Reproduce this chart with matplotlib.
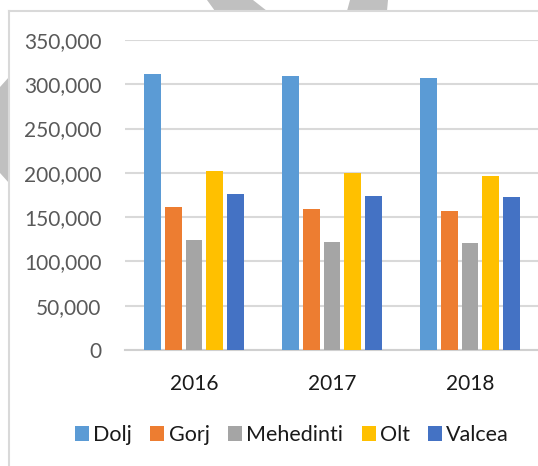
import numpy as np
import matplotlib.pyplot as plt
from matplotlib.patches import Polygon, Rectangle
from matplotlib.lines import Line2D

years = ['2016', '2017', '2018']
counties = ['Dolj', 'Gorj', 'Mehedinti', 'Olt', 'Valcea']
dolj = [312000, 309300, 307000]
gorj = [161700, 159500, 157200]
mehedinti = [123800, 121900, 120400]
olt = [202000, 199800, 196700]
valcea = [175700, 173800, 172700]
colors = ['#5b9bd5', '#ed7d31', '#a5a5a5', '#ffc000', '#4472c4']

plt.rcParams['font.family'] = ['Lato', 'DejaVu Sans']

W, H = 538, 466
fig = plt.figure(figsize=(W / 100, H / 100), dpi=100)

# grey shapes peeking out behind the chart box
def px(pts):
    return [(x / W, 1 - y / H) for x, y in pts]

for pts in [[(207, 0), (253, 0), (267, 11), (215, 11)],
            [(350, 0), (388, 0), (387, 11), (347, 11)],
            [(0, 87), (9, 77), (9, 183), (0, 173)]]:
    fig.patches.append(Polygon(px(pts), closed=True, transform=fig.transFigure,
                               facecolor='#c0c0c0', edgecolor='none', zorder=-3))
fig.patches.append(Rectangle((9 / W, 0), 1, 1 - 11 / H, transform=fig.transFigure,
                             facecolor='white', edgecolor='none', zorder=-2))
fig.lines.append(Line2D([9 / W, 9 / W], [0, 1 - 11 / H], transform=fig.transFigure,
                        color='#d9d9d9', lw=1.5, zorder=2))
fig.lines.append(Line2D([9 / W, 1], [1 - 11 / H, 1 - 11 / H], transform=fig.transFigure,
                        color='#d9d9d9', lw=1.5, zorder=2))

ax = fig.add_axes([125 / W, 1 - 350 / H, 414 / W, 310 / H])
ax.set_facecolor('none')

series = [dolj, gorj, mehedinti, olt, valcea]
x = np.arange(len(years))
slot = 0.152
bw = 0.123
for i, (vals, c, name) in enumerate(zip(series, colors, counties)):
    ax.bar(x + (i - 2) * slot, vals, width=bw, color=c, label=name, zorder=3)

ax.set_xlim(-0.5, 2.5)
ax.set_ylim(0, 350000)
ax.set_yticks(np.arange(0, 350001, 50000))
ax.set_yticklabels([f'{v:,}' for v in range(0, 350001, 50000)])
ax.set_xticks(x)
ax.set_xticklabels(years)
ax.grid(axis='y', color='#d9d9d9', lw=1.5, zorder=0)
for s in ['top', 'right', 'left']:
    ax.spines[s].set_visible(False)
ax.spines['bottom'].set_color('#d0d0d0')
ax.spines['bottom'].set_linewidth(1.5)
ax.tick_params(axis='y', length=0, pad=17, labelsize=15, labelcolor='#595959')
ax.tick_params(axis='x', length=0, pad=17, labelsize=15, labelcolor='#1a1a1a')

fig.legend(loc='center', bbox_to_anchor=(292 / W, 1 - 435 / H), ncol=5, frameon=False,
           fontsize=15.5, handlelength=0.65, handleheight=0.65, handletextpad=0.2,
           columnspacing=0.85, labelcolor='#1a1a1a')

fig.savefig('out.png', dpi=100)
